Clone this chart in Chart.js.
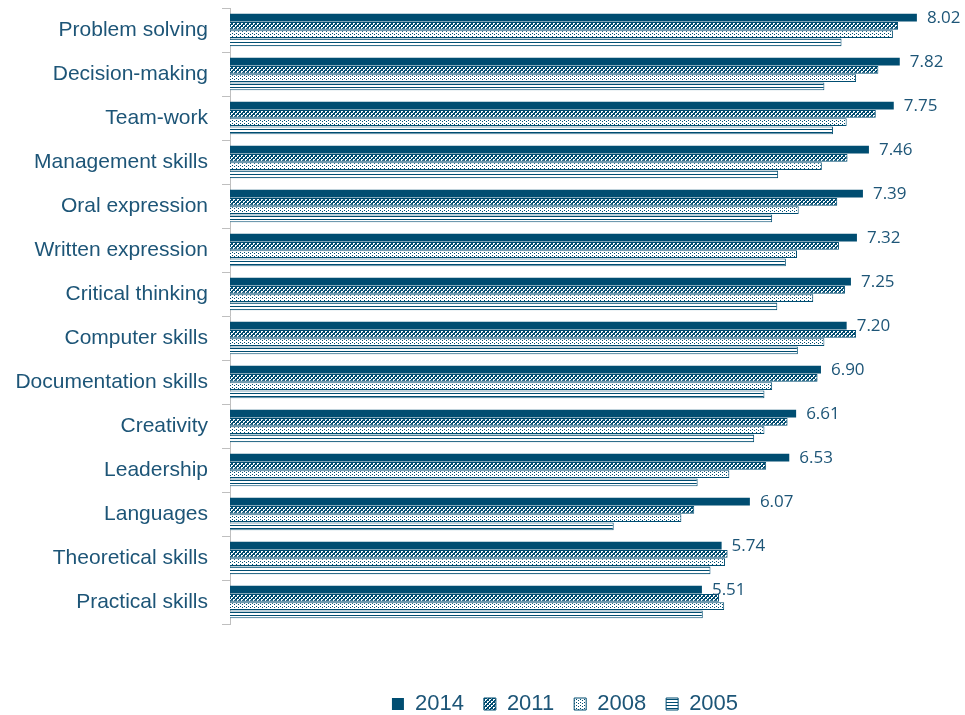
<!DOCTYPE html>
<html>
<head>
<meta charset="utf-8">
<script src="https://cdn.jsdelivr.net/npm/chart.js@4.4.0/dist/chart.umd.min.js"></script>
<style>
  html, body { margin: 0; padding: 0; background: #fff; }
  #wrap { width: 965px; height: 715px; position: relative; }
</style>
</head>
<body>
<div id="wrap"><canvas id="chart"></canvas></div>
<script>
const categories = ['Problem solving', 'Decision-making', 'Team-work', 'Management skills', 'Oral expression',
  'Written expression', 'Critical thinking', 'Computer skills', 'Documentation skills', 'Creativity',
  'Leadership', 'Languages', 'Theoretical skills', 'Practical skills'];
const years = ['2014', '2011', '2008', '2005'];
const v2014 = [8.02, 7.82, 7.75, 7.46, 7.39, 7.32, 7.25, 7.20, 6.90, 6.61, 6.53, 6.07, 5.74, 5.51];
const v2011 = [7.80, 7.57, 7.54, 7.21, 7.09, 7.11, 7.18, 7.31, 6.86, 6.51, 6.26, 5.42, 5.81, 5.71];
const v2008 = [7.74, 7.31, 7.20, 6.91, 6.64, 6.62, 6.81, 6.94, 6.33, 6.24, 5.83, 5.27, 5.78, 5.77];
const v2005 = [7.14, 6.94, 7.04, 6.40, 6.33, 6.49, 6.39, 6.63, 6.24, 6.12, 5.46, 4.48, 5.61, 5.52];

const dark = '#004D71';
const textColor = '#1D5577';
const axisGray = '#BFBFBF';

// small pixel patterns for the hatched series
function makePattern(w, h, drawFn) {
  const c = document.createElement('canvas');
  c.width = w; c.height = h;
  const g = c.getContext('2d');
  g.fillStyle = '#fff';
  g.fillRect(0, 0, w, h);
  g.fillStyle = dark;
  drawFn(g);
  return g.createPattern(c, 'repeat');
}

const crossHatch = makePattern(4, 4, g => {
  for (let i = 0; i < 4; i++) { g.fillRect(i, i, 1, 1); g.fillRect(3 - i, i, 1, 1); }
  g.fillRect(0, 2, 1, 1);
  g.fillRect(2, 0, 1, 1);
});
const dotted = makePattern(4, 3, g => {
  g.fillRect(0, 0, 1, 1);
  g.fillRect(2, 1, 1, 1);
});
const hLines = makePattern(1, 3, g => {
  g.fillRect(0, 0, 1, 1);
});

// value labels next to the 2014 bars
const valueLabels = {
  id: 'valueLabels',
  afterDatasetsDraw(chart) {
    const meta = chart.getDatasetMeta(0);
    const ctx = chart.ctx;
    ctx.save();
    ctx.font = "17px 'Open Sans'";
    ctx.fillStyle = textColor;
    ctx.textAlign = 'left';
    ctx.textBaseline = 'middle';
    meta.data.forEach((bar, i) => {
      ctx.fillText(v2014[i].toFixed(2), bar.x + 10, bar.y + 1);
    });
    ctx.restore();
  }
};

// legend sits centred under the plot area, not the whole canvas
const legendShift = {
  id: 'legendShift',
  afterLayout(chart) {
    const lg = chart.legend;
    const area = chart.chartArea;
    const shift = (area.left + area.right) / 2 - (lg.left + lg.right) / 2 - 29;
    lg.left += shift;
    lg.right += shift;
    lg.top += 10;
    lg.bottom += 10;
  }
};

function ds(label, data, bg, border) {
  return {
    label,
    data,
    backgroundColor: bg,
    borderColor: dark,
    borderWidth: border,
    categoryPercentage: 0.75,
    barPercentage: 0.94
  };
}

new Chart(document.getElementById('chart'), {
  type: 'bar',
  data: {
    labels: categories,
    datasets: [
      ds(years[0], v2014, dark, 0),
      ds(years[1], v2011, crossHatch, 1),
      ds(years[2], v2008, dotted, 1),
      ds(years[3], v2005, hLines, 1)
    ]
  },
  options: {
    indexAxis: 'y',
    responsive: true,
    maintainAspectRatio: false,
    animation: false,
    layout: { padding: { top: 8, right: 7, left: 0, bottom: 0 } },
    plugins: {
      legend: {
        position: 'bottom',
        labels: {
          boxWidth: 12,
          boxHeight: 12,
          padding: 20,
          color: textColor,
          font: { family: "'Liberation Sans', Arial, sans-serif", size: 22 }
        }
      },
      tooltip: { enabled: false }
    },
    scales: {
      x: {
        min: 0,
        max: 8.5,
        ticks: { display: false },
        grid: { display: false },
        border: { display: false },
        afterFit(s) { s.height = 39; }
      },
      y: {
        ticks: {
          autoSkip: false,
          color: textColor,
          padding: 14,
          font: { family: "'Liberation Sans', Arial, sans-serif", size: 21 }
        },
        grid: { drawOnChartArea: false, drawTicks: true, tickLength: 8, color: axisGray },
        border: { display: true, color: axisGray, width: 1 },
        afterFit(s) { s.width = 230; s.paddingTop = 0; s.paddingBottom = 0; }
      }
    }
  },
  plugins: [valueLabels, legendShift]
});
</script>
</body>
</html>
